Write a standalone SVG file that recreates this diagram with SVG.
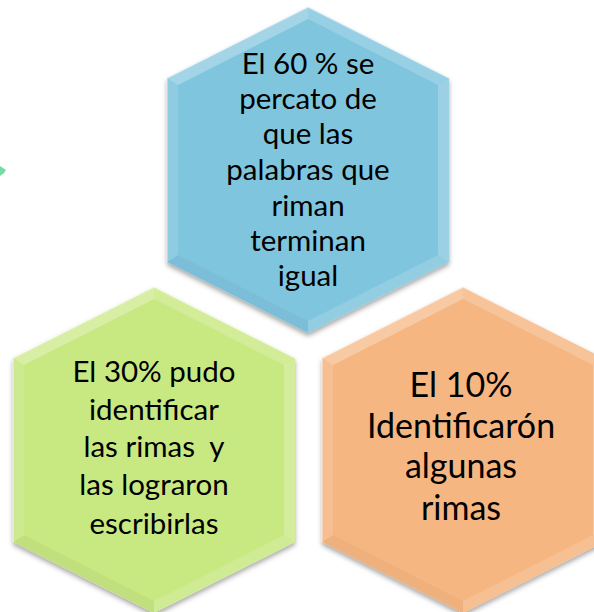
<svg xmlns="http://www.w3.org/2000/svg" width="594" height="612" viewBox="0 0 594 612">
<style>
.t{font-family:Lato,"Liberation Sans",sans-serif;fill:#000;text-anchor:middle;white-space:pre}
.s{font-size:29.5px}
.b{font-size:34px}
.hl{fill:#fff}
.dk{fill:#000}
</style>
<defs>
<filter id="sh" x="-10%" y="-10%" width="120%" height="125%">
<feDropShadow dx="0" dy="3" stdDeviation="2.5" flood-color="#000" flood-opacity="0.35"/>
</filter>
<path id="hex" d="M0,0 L141,71 L141,255 L0,326 L-141,255 L-141,71 Z"/>
<g id="bev">
<polygon class="hl" opacity="0.28" points="-141,71 0,0 0,12 -130,78"/>
<polygon class="hl" opacity="0.18" points="0,0 141,71 130,78 0,12"/>
<polygon class="hl" opacity="0.22" points="141,71 141,255 130,248 130,78"/>
<polygon class="hl" opacity="0.14" points="141,255 0,326 0,314 130,248"/>
<polygon class="dk" opacity="0.03" points="0,326 -141,255 -130,248 0,314"/>
<polygon class="hl" opacity="0.12" points="-141,255 -141,71 -130,78 -130,248"/>
<polyline points="-141,255 -141,71 0,0 141,71" fill="none" stroke="#fff" stroke-opacity="0.45" stroke-width="1.5"/>
</g>
</defs>
<polygon points="0,166 6,170 4,173 0,176" fill="#74dca0"/>
<g id="n1">
<use href="#hex" transform="translate(308,7)" fill="#80c5de" filter="url(#sh)"/>
<use href="#bev" transform="translate(308,7)"/>
<text class="t s"><tspan x="308" y="74">El 60 % se</tspan><tspan x="308" y="109">percato de</tspan><tspan x="308" y="144">que las</tspan><tspan x="308" y="180">palabras que</tspan><tspan x="308" y="216">riman</tspan><tspan x="308" y="251">terminan</tspan><tspan x="308" y="286">igual</tspan></text>
</g>
<g id="n2">
<use href="#hex" transform="translate(154,287)" fill="#c8e882" filter="url(#sh)"/>
<use href="#bev" transform="translate(154,287)"/>
<text class="t s"><tspan x="154" y="382">El 30% pudo</tspan><tspan x="154" y="420">identificar</tspan><tspan x="154" y="457">las rimas  y</tspan><tspan x="154" y="495">las lograron</tspan><tspan x="154" y="534">escribirlas</tspan></text>
</g>
<g id="n3">
<use href="#hex" transform="translate(463,287)" fill="#f6b682" filter="url(#sh)"/>
<use href="#bev" transform="translate(463,287)"/>
<text class="t b"><tspan x="461" y="397">El 10%</tspan><tspan x="461" y="438">Identificarón</tspan><tspan x="461" y="478">algunas</tspan><tspan x="461" y="520">rimas</tspan></text>
</g>
<g id="connectors"/>
</svg>
